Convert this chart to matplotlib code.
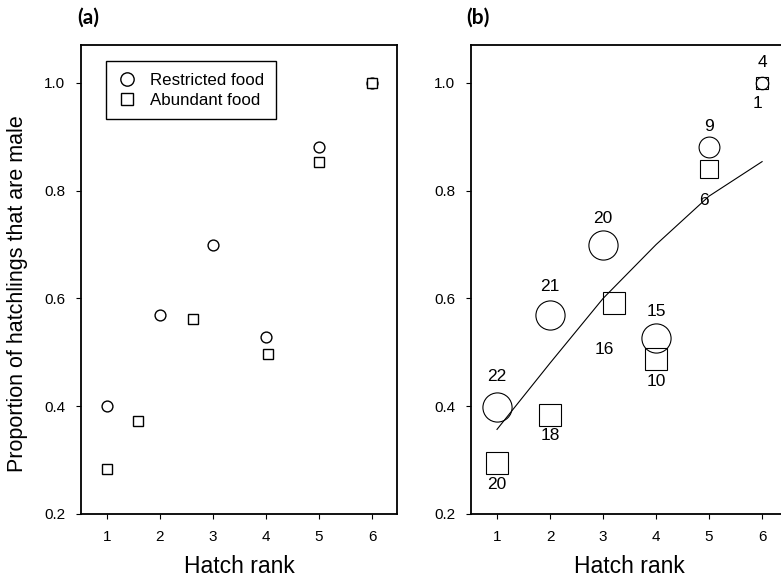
import matplotlib
matplotlib.use('Agg')
import matplotlib.pyplot as plt
from matplotlib.lines import Line2D

plt.rcParams['font.family'] = ['Liberation Sans', 'DejaVu Sans']

# Panel (a): proportion male by hatch rank
a_rest_x = [1, 2, 3, 4, 5, 6]
a_rest_y = [0.40, 0.57, 0.70, 0.529, 0.881, 1.0]
a_abun_x = [1, 1.58, 2.63, 4.03, 5, 6]
a_abun_y = [0.283, 0.373, 0.561, 0.497, 0.854, 1.0]

# Panel (b): same with sample sizes and fitted curve
b_rest_x = [1, 2, 3, 4, 5, 6]
b_rest_y = [0.398, 0.57, 0.70, 0.527, 0.881, 1.0]
b_rest_n = [22, 21, 20, 15, 9, 4]
b_abun_x = [1, 2, 3.2, 4, 5, 6]
b_abun_y = [0.294, 0.384, 0.591, 0.488, 0.841, 1.0]
b_abun_n = [20, 18, 16, 10, 6, 1]
fit_x = [1, 2, 3, 4, 5, 6]
fit_y = [0.357, 0.48, 0.60, 0.70, 0.79, 0.854]

ticks = [1, 2, 3, 4, 5, 6]

# marker sizes (points) and label offsets (points) for panel b
rest_ms = [21, 21, 21, 21, 15, 9]
abun_ms = [16.5, 16.5, 16.5, 16.5, 12.5, 8.5]
rest_off = [(0, 22), (0, 20), (0, 19), (0, 19), (0, 15), (0, 15)]
abun_off = [(0, -15), (0, -15), (-7, -33), (0, -16), (-4, -23), (-3, -15)]

fig = plt.figure(figsize=(7.81, 5.79), dpi=100)
axa = fig.add_axes([0.1037, 0.1123, 0.4046, 0.81])
axb = fig.add_axes([0.6031, 0.1123, 0.4046, 0.81])

for ax in (axa, axb):
    ax.set_xlim(0.51, 6.47)
    ax.set_ylim(0.2, 1.0705)
    ax.set_xticks(ticks)
    ax.set_yticks([0.2, 0.4, 0.6, 0.8, 1.0])
    ax.set_yticklabels(['0.2', '0.4', '0.6', '0.8', '1.0'])
    ax.tick_params(direction='out', length=3.5, width=0.8, pad=8, labelsize=11)
    for s in ax.spines.values():
        s.set_linewidth(1.3)
    ax.set_xlabel('Hatch rank', fontsize=16.5, labelpad=8)

axa.set_ylabel('Proportion of hatchlings that are male', fontsize=15.5, va='center')
axa.yaxis.set_label_coords(-0.2, 0.469)

axa.plot(a_rest_x, a_rest_y, 'o', ms=7.8, mfc='white', mec='black', mew=1.0, ls='none')
axa.plot(a_abun_x, a_abun_y, 's', ms=6.8, mfc='white', mec='black', mew=1.0, ls='none')

handles = [Line2D([], [], marker='o', ls='none', ms=9.6, mfc='white', mec='black', mew=1.0),
           Line2D([], [], marker='s', ls='none', ms=8.4, mfc='white', mec='black', mew=1.0)]
leg = axa.legend(handles, ['Restricted food', 'Abundant food'], loc='upper left',
                 bbox_to_anchor=(0.08, 0.965), borderaxespad=0, fontsize=12.2,
                 fancybox=False, edgecolor='black', framealpha=1,
                 handlelength=1.0, handletextpad=0.9, labelspacing=0.25,
                 borderpad=0.7)
leg.get_frame().set_linewidth(1.0)

axb.plot(fit_x, fit_y, color='black', lw=0.8)
for x, y, n, m, off in zip(b_rest_x, b_rest_y, b_rest_n, rest_ms, rest_off):
    axb.plot(x, y, 'o', ms=m, mfc='none', mec='black', mew=0.8)
    axb.annotate(str(n), (x, y), xytext=off, textcoords='offset points',
                 ha='center', va='center', fontsize=12.5)
for x, y, n, m, off in zip(b_abun_x, b_abun_y, b_abun_n, abun_ms, abun_off):
    axb.plot(x, y, 's', ms=m, mfc='none', mec='black', mew=0.8)
    axb.annotate(str(n), (x, y), xytext=off, textcoords='offset points',
                 ha='center', va='center', fontsize=12.5)

fig.text(88 / 781, 1 - 18 / 579, '(a)', fontsize=15, fontweight='bold',
         family='Lato', ha='center', va='center')
fig.text(478 / 781, 1 - 18 / 579, '(b)', fontsize=15, fontweight='bold',
         family='Lato', ha='center', va='center')

fig.savefig('out.png', dpi=100)
